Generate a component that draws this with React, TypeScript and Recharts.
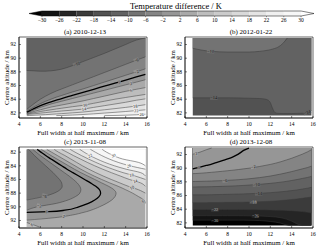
import React from 'react';
import { ComposedChart, Area, Line, Scatter, XAxis, YAxis, ReferenceArea } from 'recharts';

const FONT = '"Liberation Serif", "Times New Roman", serif';

// ---------- colour scale ----------
const LEVELS = [-30, -26, -22, -18, -14, -10, -6, -2, 2, 6, 10, 14, 18, 22, 26, 30];
const CB_EXT = [-33, 33];
const GREYS = ['#000000', '#131313', '#252525', '#3b3b3b', '#525252', '#626262', '#737373', '#848484', '#969696',
  '#a9a9a9', '#bdbdbd', '#cbcbcb', '#d9d9d9', '#e4e4e4', '#f0f0f0', '#f7f7f7', '#ffffff'];

// ---------- axes ----------
const X_DOMAIN: [number, number] = [4, 16];
const Y_DOMAIN: [number, number] = [81.25, 93.1];
const X_TICKS = [4, 6, 8, 10, 12, 14, 16];
const Y_TICKS = [82, 84, 86, 88, 90, 92];
const X0 = 4.73;
const X1 = 15.85;
const Y0 = 81.6;
const Y1 = 92.95;
const L = X0;
const R = X1;

// ---------- (a) 2010-12-13 : contour altitude per width ----------
const A_X = [4.73, 5, 5.5, 6, 6.5, 7, 7.5, 8, 9, 10, 11, 12, 13, 14, 15, 15.85];
const A_M10 = [88.2, 88.18, 88.14, 88.1, 88.1, 88.15, 88.25, 88.4, 88.9, 89.5, 90.1, 90.7, 91.35, 92.0, 92.65, 92.95];
const A_M6 = [82.5, 82.85, 83.45, 84.0, 84.45, 84.85, 85.2, 85.5, 86.1, 86.7, 87.3, 87.9, 88.5, 89.1, 89.7, 90.2];
const A_M2 = [82.25, 82.5, 82.95, 83.35, 83.7, 84.0, 84.3, 84.55, 85.05, 85.5, 86.0, 86.5, 87.0, 87.5, 88.0, 88.45];
const A_Z0 = [82.1, 82.3, 82.7, 83.05, 83.35, 83.6, 83.85, 84.1, 84.55, 85.0, 85.45, 85.9, 86.35, 86.8, 87.25, 87.65];
const A_P2 = [81.98, 82.15, 82.5, 82.8, 83.05, 83.3, 83.5, 83.7, 84.1, 84.5, 84.9, 85.3, 85.7, 86.1, 86.5, 86.85];
const A_P6 = [81.9, 82.0, 82.25, 82.45, 82.65, 82.85, 83.0, 83.15, 83.45, 83.75, 84.1, 84.45, 84.8, 85.15, 85.45, 85.7];
const A_P10 = [81.82, 81.9, 82.05, 82.2, 82.33, 82.45, 82.57, 82.68, 82.9, 83.1, 83.4, 83.7, 84.0, 84.25, 84.5, 84.7];
const A_P14 = [81.75, 81.8, 81.88, 81.96, 82.04, 82.12, 82.2, 82.27, 82.4, 82.55, 82.8, 83.05, 83.3, 83.55, 83.85, 84.05];
const A_P18 = [81.6, 81.62, 81.66, 81.7, 81.74, 81.79, 81.84, 81.89, 82.0, 82.12, 82.28, 82.45, 82.62, 82.8, 83.0, 83.2];
const A_P22 = [81.6, 81.6, 81.6, 81.6, 81.6, 81.6, 81.6, 81.62, 81.68, 81.76, 81.86, 81.97, 82.08, 82.2, 82.33, 82.45];
const A_P26 = [81.6, 81.6, 81.6, 81.6, 81.6, 81.6, 81.6, 81.6, 81.6, 81.6, 81.6, 81.6, 81.62, 81.66, 81.72, 81.8];
const A_LABELS = [
  { x: 9.4, y: 89.15, v: -10, a: -21 }, { x: 15.0, y: 89.7, v: -6, a: -21 }, { x: 15.0, y: 88.0, v: -2, a: -17 },
  { x: 13.4, y: 86.53, v: 0, a: -16 }, { x: 14.5, y: 86.3, v: 2, a: -14 }, { x: 14.5, y: 85.3, v: 6, a: -11 },
  { x: 10.2, y: 83.16, v: 10, a: -9 }, { x: 10.1, y: 82.58, v: 14, a: -8 }, { x: 14.9, y: 82.98, v: 18, a: -7 },
  { x: 15.0, y: 82.33, v: 22, a: -4 }, { x: 15.5, y: 81.77, v: 26, a: -3 },
];

// ---------- (b) 2012-01-22 ----------
const B_X = [4.73, 5.5, 6.5, 8, 10, 11, 11.5, 11.8, 12.0, 12.2, 12.4, 12.7, 13.2, 13.6, 14, 15, 15.5, 15.85];
const B_M10 = [91.45, 91.2, 91.0, 90.9, 90.9, 91.0, 91.1, 91.18, 91.25, 91.33, 91.42, 91.6, 92.2, 92.95, 92.95, 92.95, 92.95, 92.95];
const B_M14 = [84.2, 84.2, 84.2, 84.2, 84.15, 84.1, 84.02, 83.85, 83.5, 82.7, 82.1, 81.92, 81.9, 81.9, 81.9, 81.95, 82.05, 82.3];
const B_LABELS = [
  { x: 6.4, y: 91.02, v: -10, a: 3 }, { x: 6.7, y: 84.2, v: -14, a: 0 }, { x: 15.45, y: 82.1, v: -14, a: -18 },
];

// ---------- (c) 2013-11-08 : contour width per altitude ----------
const C_Y = [81.6, 82, 82.5, 83, 83.5, 84, 84.5, 85, 85.5, 86, 86.5, 87, 87.5, 88, 88.5, 89, 89.5, 90, 90.5, 90.7, 90.8,
  91.2, 91.6, 91.95, 92.3, 92.6, 92.95];
const C_M6 = [4.9, 5.15, 5.45, 5.8, 6.15, 6.5, 6.85, 7.2, 7.5, 7.8, 8.0, 8.05, 7.85, 7.3, 6.3, L, L, L, L, L, L, L, L, L, L, L, L];
const C_M2 = [5.3, 5.6, 6.0, 6.45, 6.9, 7.35, 7.8, 8.25, 8.7, 9.1, 9.45, 9.7, 9.8, 9.7, 9.3, 8.6, 7.5, 5.7, L, L, L, L, L, L, L, L, L];
const C_Z0 = [5.7, 6.05, 6.5, 7.0, 7.5, 8.0, 8.5, 9.05, 9.6, 10.15, 10.7, 11.2, 11.55, 11.65, 11.5, 11.1, 10.5, 9.6, 8.3, 6.8, L,
  L, L, L, L, L, L];
const C_P2 = [6.1, 6.5, 7.0, 7.55, 8.1, 8.65, 9.2, 9.8, 10.45, 11.1, 11.75, 12.4, 12.9, 13.1, 13.0, 12.7, 12.2, 11.55, 10.75,
  10.35, 10.1, 9.0, 7.3, L, L, L, L];
const C_P6_CORNER = [L, L, L, L, L, L, L, L, L, L, L, L, L, L, L, L, L, L, L, L, L, L, L, L, L, 5.3, 5.9];
const C_P6 = [6.6, 7.05, 7.6, 8.15, 8.7, 9.25, 9.8, 10.4, 11.05, 11.75, 12.5, 13.3, 14.0, 14.65, 15.2, 15.7, R, R, R, R, R, R,
  R, R, R, R, R];
const C_P10 = [7.3, 7.7, 8.3, 8.85, 9.4, 9.95, 10.55, 11.2, 11.9, 12.65, 13.45, 14.25, 15.2, R, R, R, R, R, R, R, R, R, R, R,
  R, R, R];
const C_P14 = [8.0, 8.5, 9.1, 9.75, 10.4, 11.1, 11.85, 12.65, 13.5, 14.35, 15.4, R, R, R, R, R, R, R, R, R, R, R, R, R, R, R, R];
const C_P18 = [8.8, 9.25, 9.85, 10.5, 11.2, 11.95, 12.8, 13.75, 14.9, R, R, R, R, R, R, R, R, R, R, R, R, R, R, R, R, R, R];
const C_P22 = [9.7, 10.1, 10.65, 11.3, 12.05, 12.95, 14.05, 15.4, R, R, R, R, R, R, R, R, R, R, R, R, R, R, R, R, R, R, R];
const C_P26 = [10.7, 11.15, 11.75, 12.45, 13.3, 14.4, R, R, R, R, R, R, R, R, R, R, R, R, R, R, R, R, R, R, R, R, R];
const C_P30 = [11.8, 12.2, 12.85, 13.7, 15.2, R, R, R, R, R, R, R, R, R, R, R, R, R, R, R, R, R, R, R, R, R, R];
const C_LABELS = [
  { x: 5.2, y: 92.62, v: 6, a: -19 }, { x: 8.2, y: 91.4, v: 2, a: 9 }, { x: 6.6, y: 90.72, v: 0, a: 2 },
  { x: 5.9, y: 89.85, v: -2, a: 10 }, { x: 6.4, y: 88.4, v: -6, a: 18 }, { x: 15.6, y: 89.15, v: 6, a: -33 },
  { x: 14.6, y: 87.2, v: 10, a: -21 }, { x: 14.9, y: 86.25, v: 14, a: -18 }, { x: 14.55, y: 85.35, v: 18, a: -15 },
  { x: 14.3, y: 83.98, v: 26, a: -16 }, { x: 10.65, y: 82.5, v: 22, a: -28 }, { x: 12.85, y: 82.5, v: 30, a: -23 },
];

// ---------- (d) 2013-12-08 ----------
const D_X = [4.73, 5, 5.5, 6, 6.5, 7, 7.5, 8, 8.5, 9, 9.5, 10, 11, 12, 13, 13.5, 14, 14.5, 15, 15.5, 15.85];
const D_M30 = [82.4, 82.4, 82.4, 82.4, 82.4, 82.4, 82.4, 82.4, 82.4, 82.4, 82.4, 82.38, 82.34, 82.2, 81.95, 81.7, 81.6, 81.6,
  81.6, 81.6, 81.6];
const D_M26 = [83.05, 83.05, 83.05, 83.05, 83.05, 83.05, 83.05, 83.05, 83.05, 83.05, 83.04, 83.03, 83.0, 82.92, 82.75, 82.55,
  82.25, 81.85, 81.6, 81.6, 81.6];
const D_M22 = [83.95, 83.95, 83.95, 83.95, 83.95, 83.95, 83.95, 83.95, 83.95, 83.95, 83.95, 83.94, 83.93, 83.9, 83.85, 83.82,
  83.78, 83.72, 83.65, 83.55, 83.45];
const D_M18 = [84.95, 84.95, 84.95, 84.96, 84.97, 84.98, 84.99, 85.0, 85.01, 85.02, 85.03, 85.05, 85.1, 85.17, 85.27, 85.34,
  85.42, 85.5, 85.6, 85.7, 85.8];
const D_M14 = [86.1, 86.1, 86.1, 86.1, 86.12, 86.14, 86.16, 86.18, 86.2, 86.22, 86.24, 86.27, 86.33, 86.42, 86.55, 86.63,
  86.72, 86.82, 86.95, 87.08, 87.2];
const D_M10 = [87.25, 87.26, 87.27, 87.28, 87.3, 87.32, 87.34, 87.37, 87.4, 87.44, 87.48, 87.53, 87.64, 87.78, 87.96, 88.07,
  88.2, 88.34, 88.5, 88.65, 88.8];
const D_M6 = [88.05, 88.06, 88.08, 88.1, 88.12, 88.15, 88.18, 88.22, 88.27, 88.32, 88.38, 88.45, 88.62, 88.85, 89.15, 89.32,
  89.5, 89.7, 89.9, 90.1, 90.3];
const D_M2 = [89.2, 89.22, 89.27, 89.33, 89.4, 89.47, 89.55, 89.63, 89.71, 89.8, 89.9, 90.0, 90.25, 90.55, 90.95, 91.2,
  91.45, 91.75, 92.05, 92.4, 92.7];
const D_Z0 = [89.9, 90.0, 90.2, 90.4, 90.6, 90.85, 91.1, 91.35, 91.65, 92.05, 92.6, 92.95, 92.95, 92.95, 92.95, 92.95,
  92.95, 92.95, 92.95, 92.95, 92.95];
const D_P2 = [92.05, 92.15, 92.4, 92.7, 92.95, 92.95, 92.95, 92.95, 92.95, 92.95, 92.95, 92.95, 92.95, 92.95, 92.95, 92.95,
  92.95, 92.95, 92.95, 92.95, 92.95];
const D_LABELS = [
  { x: 5.05, y: 92.15, v: 2, a: -14 }, { x: 5.3, y: 90.1, v: 0, a: -14 }, { x: 10.4, y: 90.2, v: -2, a: -9 },
  { x: 7.75, y: 88.2, v: -6, a: -3 }, { x: 10.7, y: 87.6, v: -10, a: -4 }, { x: 10.9, y: 86.3, v: -14, a: -3 },
  { x: 10.4, y: 85.07, v: -18, a: -2 }, { x: 6.8, y: 83.95, v: -22, a: 0 }, { x: 10.6, y: 83.03, v: -26, a: 1 },
  { x: 6.8, y: 82.4, v: -30, a: 0 },
];

// ---------- helpers ----------
type Contour = { key: string; vals: number[]; k: number | null; base: number; bold?: boolean };
type Lab = { x: number; y: number; v: number; a: number };
type PanelSpec = {
  title: string; left: number; top: number; width: number; vertical: boolean;
  grid: number[]; baseK: number; contours: Contour[]; labels: Lab[];
};

const fmt = (v: number) => (v < 0 ? `\u2212${-v}` : `${v}`);
const bandIndex = (v: number) => Math.max(0, Math.min(16, Math.floor((v + 30) / 4) + 1));

const PANELS: PanelSpec[] = [
  {
    title: '(a) 2010-12-13', left: 0, top: 28, width: 165, vertical: false, grid: A_X, baseK: 15, labels: A_LABELS,
    contours: [
      { key: 'p26', vals: A_P26, k: 14, base: Y1 }, { key: 'p22', vals: A_P22, k: 13, base: Y1 },
      { key: 'p18', vals: A_P18, k: 12, base: Y1 }, { key: 'p14', vals: A_P14, k: 11, base: Y1 },
      { key: 'p10', vals: A_P10, k: 10, base: Y1 }, { key: 'p6', vals: A_P6, k: 9, base: Y1 },
      { key: 'p2', vals: A_P2, k: 8, base: Y1 }, { key: 'z0', vals: A_Z0, k: null, base: Y1, bold: true },
      { key: 'm2', vals: A_M2, k: 7, base: Y1 }, { key: 'm6', vals: A_M6, k: 6, base: Y1 },
      { key: 'm10', vals: A_M10, k: 5, base: Y1 },
    ],
  },
  {
    title: '(b) 2012-01-22', left: 166, top: 28, width: 154, vertical: false, grid: B_X, baseK: 4, labels: B_LABELS,
    contours: [
      { key: 'm14', vals: B_M14, k: 5, base: Y1 }, { key: 'm10', vals: B_M10, k: 6, base: Y1 },
    ],
  },
  {
    title: '(c) 2013-11-08', left: 0, top: 138, width: 165, vertical: true, grid: C_Y, baseK: 9, labels: C_LABELS,
    contours: [
      { key: 'p6', vals: C_P6, k: 10, base: R }, { key: 'p10', vals: C_P10, k: 11, base: R },
      { key: 'p14', vals: C_P14, k: 12, base: R }, { key: 'p18', vals: C_P18, k: 13, base: R },
      { key: 'p22', vals: C_P22, k: 14, base: R }, { key: 'p26', vals: C_P26, k: 15, base: R },
      { key: 'p30', vals: C_P30, k: 16, base: R },
      { key: 'p2', vals: C_P2, k: 8, base: L }, { key: 'z0', vals: C_Z0, k: null, base: L, bold: true },
      { key: 'm2', vals: C_M2, k: 7, base: L }, { key: 'm6', vals: C_M6, k: 6, base: L },
      { key: 'p6c', vals: C_P6_CORNER, k: 10, base: L },
    ],
  },
  {
    title: '(d) 2013-12-08', left: 166, top: 138, width: 154, vertical: false, grid: D_X, baseK: 0, labels: D_LABELS,
    contours: [
      { key: 'm30', vals: D_M30, k: 1, base: Y1 }, { key: 'm26', vals: D_M26, k: 2, base: Y1 },
      { key: 'm22', vals: D_M22, k: 3, base: Y1 }, { key: 'm18', vals: D_M18, k: 4, base: Y1 },
      { key: 'm14', vals: D_M14, k: 5, base: Y1 }, { key: 'm10', vals: D_M10, k: 6, base: Y1 },
      { key: 'm6', vals: D_M6, k: 7, base: Y1 }, { key: 'm2', vals: D_M2, k: 8, base: Y1 },
      { key: 'z0', vals: D_Z0, k: null, base: Y1, bold: true }, { key: 'p2', vals: D_P2, k: 9, base: Y1 },
    ],
  },
];

function buildRows(spec: PanelSpec) {
  const edges = spec.vertical ? [X0, X1] : [Y0, Y1];
  const isEdge = (v: number) => edges.some((e) => Math.abs(v - e) < 1e-6);
  const trimmed: Record<string, (number | null)[]> = {};
  spec.contours.forEach((c) => {
    trimmed[c.key] = c.vals.map((v, i) => {
      const prevEdge = i === 0 || isEdge(c.vals[i - 1]);
      const nextEdge = i === c.vals.length - 1 || isEdge(c.vals[i + 1]);
      return isEdge(v) && prevEdge && nextEdge ? null : v;
    });
  });
  return spec.grid.map((g, i) => {
    const row: Record<string, number | null> = { [spec.vertical ? 'y' : 'x']: g };
    spec.contours.forEach((c) => {
      row[c.key] = c.vals[i];
      row['line_' + c.key] = trimmed[c.key][i];
    });
    return row;
  });
}

const renderLabel = (props: any) => {
  const { cx, cy, payload } = props;
  if (cx == null || cy == null || !payload) return <g />;
  const t = fmt(payload.v);
  const k = bandIndex(payload.v);
  const w = t.length * 2.3 + 0.6;
  const h = 4.2;
  return (
    <g transform={`rotate(${payload.a} ${cx} ${cy})`}>
      <rect x={cx - w / 2} y={cy - h / 2} width={w} height={h} fill={GREYS[k]} />
      <text x={cx} y={cy + 1.55} textAnchor="middle" fontSize={4.4} fontFamily={FONT}
        fill={k <= 4 ? '#b8b8b8' : '#1a1a1a'}>{t}</text>
    </g>
  );
};

const noTick = () => <g />;
const TICK_STYLE = { fontSize: 5.5, fontFamily: FONT, fill: '#000' };
const LABEL_STYLE = { fontSize: 6.9, fontFamily: FONT, fill: '#000' };

function Panel({ spec }: { spec: PanelSpec }) {
  const rows = buildRows(spec);
  const v = spec.vertical;
  return (
    <div style={{ position: 'absolute', left: spec.left, top: spec.top }}>
      <ComposedChart width={spec.width} height={112} data={rows} layout={v ? 'vertical' : 'horizontal'}
        margin={{ top: 9, right: spec.width - 147, bottom: 0, left: 0 }}>
        <XAxis type="number" dataKey={v ? undefined : 'x'} domain={X_DOMAIN} ticks={X_TICKS} interval={0}
          allowDataOverflow height={22} tickSize={-2} tickMargin={6} tick={TICK_STYLE}
          axisLine={{ stroke: '#000', strokeWidth: 0.6 }} tickLine={{ stroke: '#000', strokeWidth: 0.5 }}
          label={{ value: 'Full width at half maximum / km', position: 'insideBottom', offset: 4.7, style: LABEL_STYLE }} />
        <YAxis type="number" dataKey={v ? 'y' : undefined} domain={Y_DOMAIN} ticks={Y_TICKS} interval={0}
          allowDataOverflow width={19} tickSize={-2} tickMargin={5} tick={TICK_STYLE}
          axisLine={{ stroke: '#000', strokeWidth: 0.6 }} tickLine={{ stroke: '#000', strokeWidth: 0.5 }}
          label={{ value: 'Centre altitude / km', angle: -90, position: 'insideLeft', offset: 7,
            style: { ...LABEL_STYLE, textAnchor: 'middle' } }} />
        <Area dataKey={() => (v ? X1 : Y1)} baseValue={v ? X0 : Y0} type="linear" fill={GREYS[spec.baseK]}
          fillOpacity={1} stroke="none" isAnimationActive={false} dot={false} activeDot={false} />
        {spec.contours.filter((c) => c.k !== null).map((c) => (
          <Area key={'f' + c.key} dataKey={c.key} baseValue={c.base} type="monotone" fill={GREYS[c.k as number]}
            fillOpacity={1} stroke="none" isAnimationActive={false} dot={false} activeDot={false} />
        ))}
        {spec.contours.map((c) => (
          <Line key={'l' + c.key} dataKey={'line_' + c.key} type="monotone" stroke={c.bold ? '#000' : '#3a3a3a'}
            strokeWidth={c.bold ? 1.3 : 0.5} dot={false} activeDot={false} connectNulls={false}
            isAnimationActive={false} />
        ))}
        <ReferenceArea x1={X_DOMAIN[0]} x2={X_DOMAIN[1]} y1={Y_DOMAIN[0]} y2={Y_DOMAIN[1]} fill="none"
          fillOpacity={0} stroke="#000" strokeWidth={0.6} ifOverflow="visible" />
        <Scatter data={spec.labels} dataKey={v ? 'x' : 'y'} shape={renderLabel} isAnimationActive={false} />
      </ComposedChart>
    </div>
  );
}

// ---------- colour bar ----------
const CB_ROWS = [CB_EXT[0], ...LEVELS, CB_EXT[1]].map((x) => ({ x }));

function ColorBar() {
  return (
    <div style={{ position: 'absolute', left: 0, top: 0 }}>
      <ComposedChart width={320} height={28} data={CB_ROWS} margin={{ top: 11, right: 6, bottom: 0, left: 29 }}>
        <XAxis type="number" dataKey="x" domain={CB_EXT} ticks={LEVELS} interval={0} allowDataOverflow height={12}
          tickSize={1.2} tickMargin={0.6} axisLine={false} tickLine={{ stroke: '#000', strokeWidth: 0.4 }}
          tick={TICK_STYLE} tickFormatter={(t: number) => fmt(t)} />
        <YAxis hide domain={[0, 1]} type="number" />
        {LEVELS.slice(0, -1).map((lo, i) => (
          <Area key={'cb' + i} type="linear" isAnimationActive={false} stroke="none" fill={GREYS[i + 1]} fillOpacity={1}
            dot={false} activeDot={false} connectNulls={false}
            dataKey={(r: { x: number }) => (r.x === lo || r.x === LEVELS[i + 1] ? [0, 1] : null)} />
        ))}
        <Area type="linear" isAnimationActive={false} stroke="none" fill={GREYS[0]} fillOpacity={1} dot={false}
          activeDot={false} connectNulls={false}
          dataKey={(r: { x: number }) => (r.x === CB_EXT[0] ? [0.5, 0.5] : r.x === LEVELS[0] ? [0, 1] : null)} />
        <Area type="linear" isAnimationActive={false} stroke="none" fill={GREYS[16]} fillOpacity={1} dot={false}
          activeDot={false} connectNulls={false}
          dataKey={(r: { x: number }) => (r.x === CB_EXT[1] ? [0.5, 0.5] : r.x === LEVELS[LEVELS.length - 1] ? [0, 1] : null)} />
        <Area type="linear" isAnimationActive={false} stroke="#000" strokeWidth={0.5} fill="none" fillOpacity={0}
          dot={false} activeDot={false}
          dataKey={(r: { x: number }) => (r.x === CB_EXT[0] || r.x === CB_EXT[1] ? [0.5, 0.5] : [0, 1])} />
      </ComposedChart>
    </div>
  );
}

export default function App() {
  return (
    <div style={{ position: 'absolute', left: 0, top: 0, width: 320, height: 250, background: '#fff', overflow: 'hidden' }}>
      <ColorBar />
      <div style={{ position: 'absolute', left: 76, top: 0.5, width: 200, textAlign: 'center', fontFamily: FONT,
        fontSize: 8.5, lineHeight: '10px', whiteSpace: 'nowrap' }}>Temperature difference / K</div>
      {PANELS.map((p) => <Panel key={p.title} spec={p} />)}
      {PANELS.map((p) => (
        <div key={'t' + p.title} style={{ position: 'absolute', left: p.left + 21, top: p.top - 0.3, width: 128,
          textAlign: 'center', fontFamily: FONT, fontSize: 7, lineHeight: '8px', whiteSpace: 'nowrap' }}>{p.title}</div>
      ))}
    </div>
  );
}
